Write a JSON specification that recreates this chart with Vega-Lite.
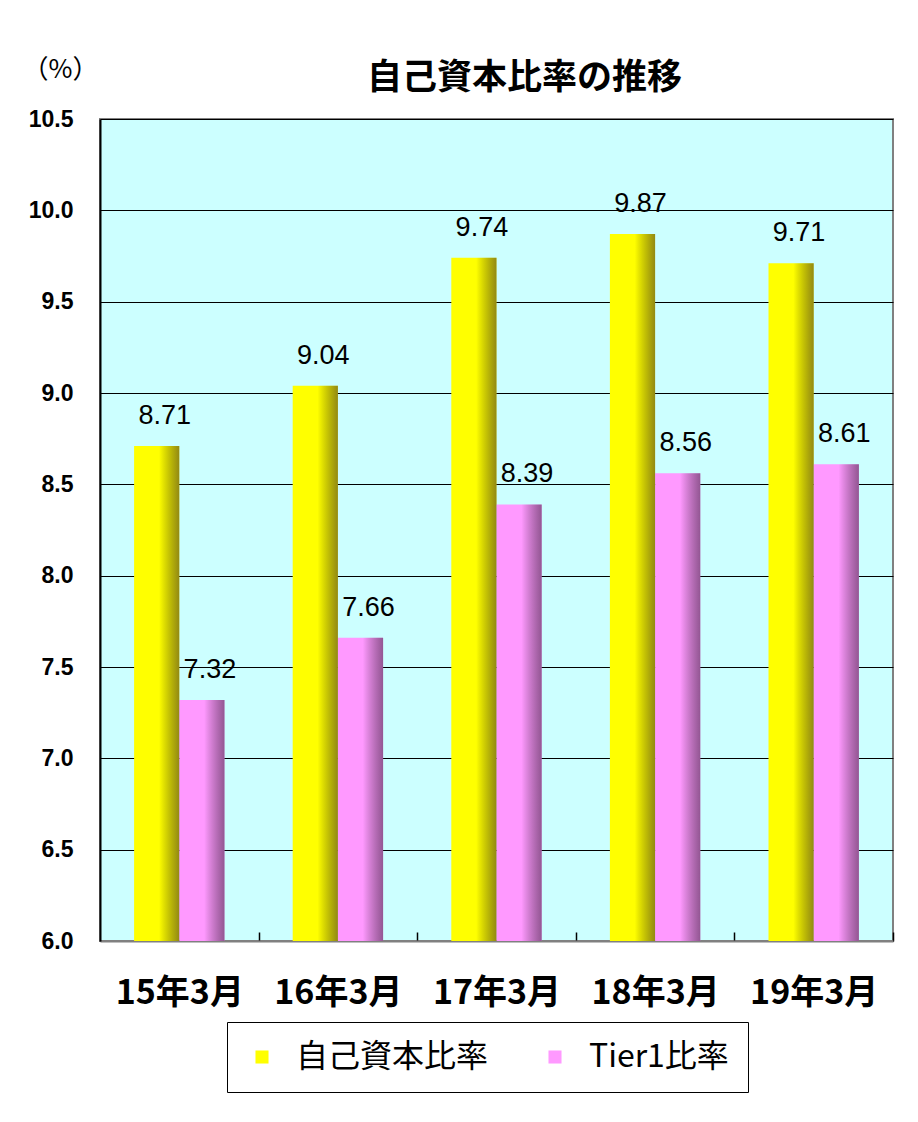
{
  "$schema": "https://vega.github.io/schema/vega-lite/v6.json",
  "autosize": "none",
  "width": 793,
  "height": 822,
  "padding": {"left": 100, "top": 119, "right": 25, "bottom": 181},
  "background": "white",
  "config": {
    "view": {"fill": "#CCFFFF", "stroke": "#808080", "strokeWidth": 2},
    "font": "Noto Sans CJK JP"
  },
  "title": {
    "text": "自己資本比率の推移",
    "anchor": "middle",
    "dx": 28,
    "dy": 66,
    "offset": 26,
    "fontSize": 35,
    "fontWeight": "bold",
    "font": "Noto Sans CJK JP",
    "color": "black"
  },
  "data": {
    "values": [
      {"cat": "15年3月", "series": "自己資本比率", "value": 8.71},
      {"cat": "15年3月", "series": "Tier1比率", "value": 7.32},
      {"cat": "16年3月", "series": "自己資本比率", "value": 9.04},
      {"cat": "16年3月", "series": "Tier1比率", "value": 7.66},
      {"cat": "17年3月", "series": "自己資本比率", "value": 9.74},
      {"cat": "17年3月", "series": "Tier1比率", "value": 8.39},
      {"cat": "18年3月", "series": "自己資本比率", "value": 9.87},
      {"cat": "18年3月", "series": "Tier1比率", "value": 8.56},
      {"cat": "19年3月", "series": "自己資本比率", "value": 9.71},
      {"cat": "19年3月", "series": "Tier1比率", "value": 8.61}
    ]
  },
  "encoding": {
    "x": {
      "field": "cat", "type": "nominal", "sort": null,
      "scale": {"paddingInner": 0.43, "paddingOuter": 0.215},
      "axis": {
        "title": null, "labelAngle": 0, "labelFontSize": 34, "labelFontWeight": "bold",
        "labelColor": "black", "labelPadding": 44, "labelOffset": -79.3, "domainColor": "#808080", "domainWidth": 2,
        "ticks": true, "tickOffset": 79.3, "tickSize": -9, "tickColor": "black", "tickWidth": 1.5
      }
    },
    "xOffset": {"field": "series", "type": "nominal", "scale": {"domain": ["自己資本比率", "Tier1比率"]}},
    "y": {
      "field": "value", "type": "quantitative",
      "scale": {"domain": [6.0, 10.5], "nice": false, "zero": false},
      "axis": {
        "values": [6.0, 6.5, 7.0, 7.5, 8.0, 8.5, 9.0, 9.5, 10.0, 10.5],
        "format": ".1f", "labelFontSize": 23, "labelFontWeight": "bold", "labelColor": "black",
        "labelFont": "Liberation Sans",
        "labelPadding": 27, "ticks": false, "domainColor": "black", "domainWidth": 2,
        "gridColor": "black", "gridWidth": 1, "grid": true,
        "title": "（%）", "titleAngle": 0, "titleX": -40, "titleY": -50,
        "titleAlign": "center", "titleBaseline": "middle", "titleFontSize": 26,
        "titleFontWeight": "normal", "titleFont": "Noto Sans CJK JP", "titleColor": "black"
      }
    }
  },
  "layer": [
    {
      "mark": {"type": "bar", "clip": true},
      "encoding": {
        "color": {
          "field": "series", "type": "nominal",
          "scale": {"domain": ["自己資本比率", "Tier1比率"], "range": ["#FFFF00", "#FF99FF"]},
          "legend": {
            "orient": "none", "legendX": 127, "legendY": 903, "direction": "horizontal",
            "title": null, "strokeColor": "black", "fillColor": "white", "padding": 19,
            "labelFontSize": 32, "labelFont": "Noto Sans CJK JP", "labelColor": "black",
            "labelLimit": 0,
            "symbolType": "square", "symbolSize": 170, "symbolStrokeWidth": 0,
            "labelOffset": 18, "columnPadding": 50, "symbolOpacity": 1
          }
        }
      }
    },
    {
      "mark": {
        "type": "bar", "clip": true,
        "fill": {
          "gradient": "linear", "x1": 0, "x2": 1, "y1": 0, "y2": 0,
          "stops": [
            {"offset": 0, "color": "rgba(0,0,0,0)"},
            {"offset": 0.55, "color": "rgba(0,0,0,0)"},
            {"offset": 1, "color": "rgba(40,20,40,0.5)"}
          ]
        }
      }
    },
    {
      "mark": {"type": "text", "dy": -30, "dx": 8, "fontSize": 27, "font": "Liberation Sans", "color": "black", "baseline": "middle"},
      "encoding": {"text": {"field": "value", "type": "quantitative", "format": ".2f"}}
    }
  ]
}
